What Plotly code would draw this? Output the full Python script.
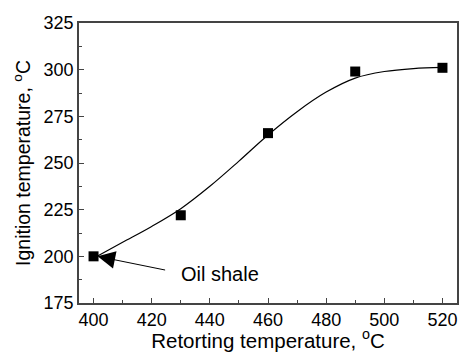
import plotly.graph_objects as go

# measured points
retort_temp = [400, 430, 460, 490, 520]
ignition_temp = [200, 222, 266, 299, 301]

# fitted curve
fit_x = [400, 410, 420, 430, 440, 450, 460, 470, 480, 490, 500, 510, 520]
fit_y = [199, 207.5, 216, 225.5, 237.5, 251, 265, 277.5, 288, 295.5, 299, 300.6, 301.2]

x_ticks = [400, 420, 440, 460, 480, 500, 520]
y_ticks = [175, 200, 225, 250, 275, 300, 325]

FONT = "Liberation Sans, Arial, sans-serif"

fig = go.Figure()
fig.add_trace(go.Scatter(x=fit_x, y=fit_y, mode="lines",
                         line=dict(color="black", width=1.2, shape="spline", smoothing=1.0),
                         hoverinfo="skip", showlegend=False))
fig.add_trace(go.Scatter(x=retort_temp, y=ignition_temp, mode="markers",
                         marker=dict(symbol="square", size=10, color="black"),
                         showlegend=False))

fig.add_annotation(x=401.4, y=200, xref="x", yref="y", ax=69, ay=14,
                   axref="pixel", ayref="pixel", showarrow=True, text="",
                   arrowhead=2, arrowsize=3.5, arrowwidth=1.0, arrowcolor="black", standoff=0)
fig.add_annotation(x=429.4, y=190.5, xref="x", yref="y", text="Oil shale",
                   showarrow=False, font=dict(family=FONT, size=20, color="black"),
                   xanchor="left", yanchor="middle")

axis_common = dict(showline=True, linecolor="#444", linewidth=1.5, mirror=True,
                   ticks="inside", ticklen=5, tickwidth=1, tickcolor="#444",
                   showgrid=False, zeroline=False,
                   tickfont=dict(family=FONT, size=18, color="black"))

fig.update_xaxes(range=[395, 525], tickvals=x_ticks,
                 minor=dict(ticks="inside", ticklen=3, dtick=10, tickcolor="#444"),
                 title=dict(text="Retorting temperature, <sup>o</sup>C",
                            font=dict(family=FONT, size=20.5, color="black"), standoff=2),
                 **axis_common)
fig.update_yaxes(range=[175, 325], tickvals=y_ticks,
                 minor=dict(ticks="inside", ticklen=3, dtick=12.5, tickcolor="#444"),
                 title=dict(text="Ignition temperature, <sup>o</sup>C",
                            font=dict(family=FONT, size=19.5, color="black"), standoff=8),
                 **axis_common)

fig.update_layout(width=462, height=352, margin=dict(l=79, r=3, t=23, b=49),
                  plot_bgcolor="white", paper_bgcolor="white")

fig.write_html("out.html")
